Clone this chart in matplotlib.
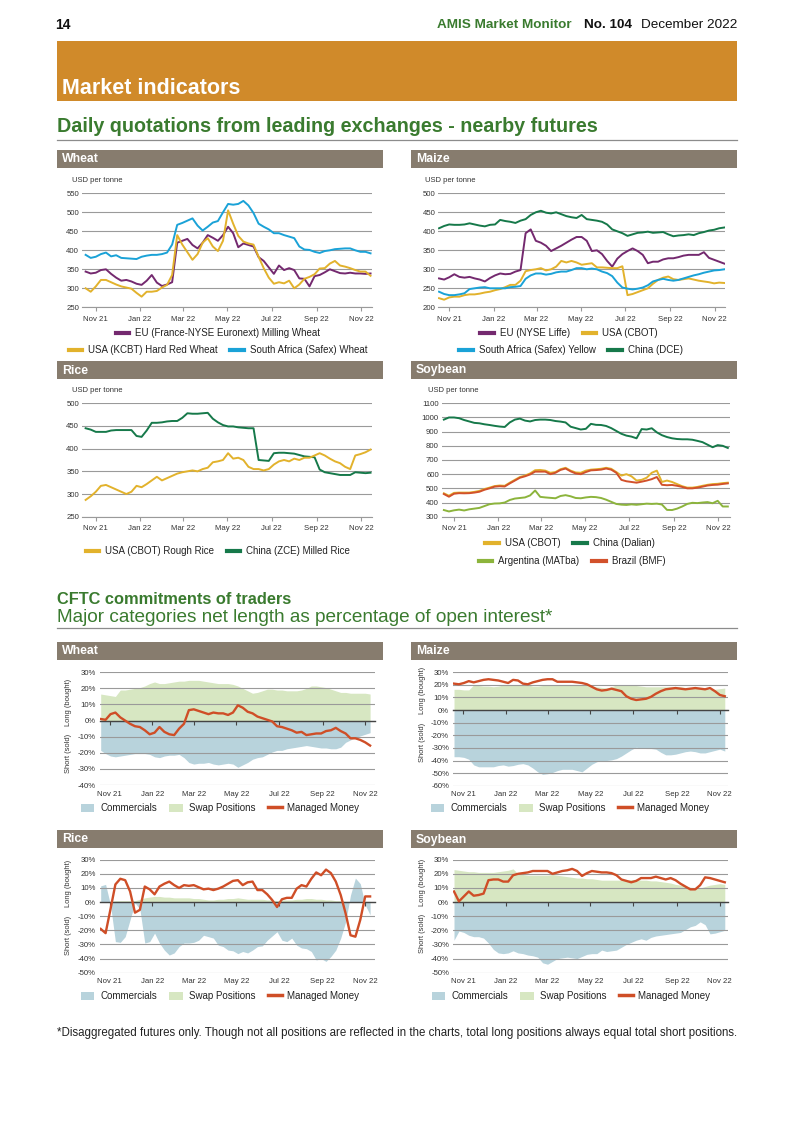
import matplotlib
matplotlib.use('Agg')
import matplotlib.pyplot as plt
import matplotlib.dates as mdates
from matplotlib.patches import Rectangle, Patch
from matplotlib.lines import Line2D
import pandas as pd

plt.rcParams['font.family'] = ['Liberation Sans', 'DejaVu Sans']

W, H = 793, 1122

# ---- dates / ticks ----
price_dates = mdates.date2num(pd.date_range('2021-10-18', periods=57, freq='7D'))
cftc_dates = mdates.date2num(pd.date_range('2021-10-19', periods=56, freq='7D'))
month_ticks = mdates.date2num(pd.to_datetime(['2021-11-01', '2022-01-01', '2022-03-01', '2022-05-01',
                                              '2022-07-01', '2022-09-01', '2022-11-01']))
month_labels = ['Nov 21', 'Jan 22', 'Mar 22', 'May 22', 'Jul 22', 'Sep 22', 'Nov 22']

# ---- daily quotations (weekly readings, USD per tonne) ----
wheat_eu = [344, 339, 341, 348, 350, 338, 328, 320, 322, 318, 312, 309, 320, 335, 315, 306, 310, 316, 420,
            425, 430, 414, 405, 420, 440, 433, 425, 440, 462, 445, 408, 418, 414, 410, 382, 372, 355, 338,
            360, 348, 353, 348, 326, 325, 305, 332, 335, 342, 350, 345, 340, 339, 341, 339, 339, 338, 339]
wheat_usa = [300, 291, 305, 322, 322, 316, 310, 305, 302, 299, 288, 278, 291, 291, 293, 302, 309, 335, 440,
             415, 395, 375, 390, 420, 432, 410, 398, 425, 505, 470, 438, 423, 418, 415, 383, 353, 328, 312,
             316, 313, 320, 300, 310, 325, 330, 337, 352, 353, 365, 372, 360, 357, 353, 348, 344, 344, 333]
wheat_za = [388, 380, 383, 390, 394, 384, 387, 380, 379, 378, 377, 383, 386, 388, 388, 390, 394, 415, 467,
            472, 478, 484, 465, 452, 462, 473, 477, 500, 522, 520, 522, 530, 518, 498, 470, 462, 455, 445,
            445, 440, 436, 432, 410, 402, 401, 396, 393, 398, 400, 403, 404, 405, 405, 400, 396, 396, 392]

maize_eu = [276, 273, 279, 287, 280, 278, 280, 276, 273, 268, 277, 284, 289, 287, 288, 294, 298, 395, 405,
            375, 370, 362, 348, 355, 362, 370, 378, 385, 385, 375, 348, 350, 340, 322, 307, 328, 340, 348,
            355, 348, 338, 316, 320, 320, 326, 329, 329, 332, 336, 338, 338, 338, 345, 330, 325, 320, 315]
maize_usa = [224, 220, 226, 228, 228, 232, 234, 234, 236, 239, 241, 245, 248, 253, 259, 259, 270, 295, 298,
             300, 303, 297, 300, 307, 322, 318, 322, 318, 312, 314, 316, 305, 305, 304, 303, 303, 308, 232,
             235, 240, 245, 250, 262, 272, 278, 281, 274, 272, 274, 276, 273, 270, 268, 266, 263, 265, 264]
maize_za = [241, 235, 232, 232, 234, 237, 248, 250, 252, 253, 250, 250, 250, 250, 253, 254, 256, 275, 284,
            289, 289, 286, 288, 292, 294, 294, 298, 303, 303, 300, 302, 300, 294, 290, 282, 265, 252, 249,
            247, 249, 252, 258, 268, 272, 275, 272, 270, 272, 276, 280, 284, 287, 291, 294, 297, 298, 300]
maize_cn = [408, 414, 418, 417, 417, 418, 421, 418, 415, 413, 417, 418, 430, 427, 425, 422, 428, 432, 443,
            450, 454, 449, 447, 450, 445, 440, 437, 435, 443, 432, 430, 428, 425, 418, 405, 400, 395, 388,
            392, 396, 397, 399, 396, 397, 398, 392, 387, 389, 390, 392, 390, 395, 398, 402, 404, 408, 410]

rice_usa = [287, 295, 305, 318, 320, 315, 310, 305, 300, 305, 318, 315, 322, 330, 338, 330, 335, 340, 345,
            348, 350, 352, 350, 355, 358, 370, 372, 375, 390, 378, 380, 375, 360, 355, 355, 352, 355, 365,
            372, 375, 372, 378, 375, 380, 380, 385, 390, 385, 378, 372, 368, 360, 355, 385, 388, 392, 398]
rice_cn = [445, 442, 437, 437, 437, 440, 441, 441, 441, 441, 428, 426, 440, 457, 457, 458, 460, 461, 461,
           468, 478, 477, 477, 478, 479, 466, 458, 452, 449, 449, 447, 446, 445, 445, 375, 374, 373, 390,
           391, 391, 390, 389, 386, 383, 382, 381, 354, 348, 346, 344, 342, 342, 342, 348, 347, 346, 347]

soy_usa = [465, 448, 468, 470, 470, 470, 475, 482, 495, 505, 516, 520, 518, 540, 560, 580, 590, 605, 628,
           630, 625, 610, 615, 635, 645, 625, 612, 610, 625, 632, 635, 638, 645, 638, 615, 590, 600, 585,
           555, 560, 575, 610, 625, 545, 555, 545, 530, 515, 505, 505, 510, 518, 525, 530, 532, 537, 540]
soy_cn = [985, 1000, 1000, 995, 982, 972, 962, 959, 952, 947, 941, 936, 933, 965, 985, 992, 978, 972, 982,
          985, 985, 982, 975, 971, 965, 935, 925, 915, 920, 955, 948, 947, 940, 925, 905, 885, 872, 865,
          853, 918, 915, 924, 895, 875, 862, 853, 848, 846, 846, 843, 835, 826, 808, 790, 805, 800, 785]
soy_ar = [347, 337, 345, 350, 344, 352, 357, 362, 375, 388, 393, 394, 400, 418, 428, 432, 436, 450, 485,
          440, 436, 433, 430, 446, 452, 444, 432, 430, 436, 440, 438, 432, 420, 405, 390, 385, 383, 387,
          384, 388, 392, 390, 392, 386, 348, 347, 357, 372, 390, 398, 396, 400, 403, 395, 412, 372, 372]
soy_br = [460, 441, 462, 466, 465, 466, 470, 476, 490, 500, 512, 515, 513, 535, 555, 575, 585, 598, 618,
          618, 618, 600, 610, 630, 640, 620, 605, 600, 615, 627, 629, 632, 640, 632, 610, 560, 550, 545,
          540, 547, 555, 565, 580, 525, 522, 524, 518, 510, 500, 500, 505, 512, 520, 524, 526, 531, 535]

# ---- CFTC net length, % of open interest (weekly) ----
wheat_comm = [-18.5, -20.5, -22, -22.5, -22, -21.5, -21, -20.5, -20.5, -20.5, -21, -22.5, -23, -22, -21.5,
              -21.5, -21, -23, -26, -27, -26.5, -26.5, -26, -27, -27.5, -27, -26.5, -27, -29, -27.5, -26,
              -24, -23, -22.5, -21, -19.5, -18.5, -18.5, -17.5, -17, -16.5, -16, -15.5, -16, -16.5, -17,
              -17, -17.5, -17.5, -16.5, -13.5, -12, -10.5, -9.5, -8.5, -7.5]
wheat_swap = [16.5, 16, 15.5, 15, 19, 19, 19.5, 20, 20.5, 21.5, 23, 24, 23, 23, 23.5, 24, 24.5, 24.5, 25, 25,
              25, 24.5, 24, 23.5, 23, 23, 23, 22.5, 21.5, 20, 18.5, 17, 17.5, 18.5, 19.5, 19.5, 19, 19, 18.5,
              18.5, 18.5, 19, 20, 21.5, 21.5, 21, 20.5, 19.5, 18.5, 17.5, 17.5, 17, 17, 17, 17, 16.5]
wheat_mm = [1, 0.5, 4, 5, 2, 0, -2, -3.5, -4, -6, -8.5, -7.5, -4, -7, -8.5, -9, -5, -2, 6.5, 7, 6, 5, 4, 5,
            4.5, 4.5, 3.5, 5, 9.5, 8, 5.5, 4.5, 2.5, 1.5, 0.5, -0.5, -3.5, -4, -5, -6, -7.5, -7, -9, -8.5,
            -8, -8, -6.5, -6, -4.5, -6.5, -8, -11, -11, -12, -13.5, -15.5]

maize_comm = [-37, -37, -37.5, -39, -43.5, -45, -45, -45, -45, -44, -43.5, -44.5, -44, -43, -42.5, -43.5,
              -46, -49, -51, -50.5, -49.5, -48, -47, -47, -47, -48, -49, -46, -43, -41, -40, -40, -39.5,
              -38.5, -36.5, -34, -31.5, -29.5, -30, -30.5, -30.5, -31, -33.5, -35.5, -35.5, -35, -34, -33,
              -32.5, -33, -34, -34, -33, -32, -31, -32.5]
maize_swap = [16.5, 16.5, 16, 16, 20, 19.5, 19, 19, 18.5, 19, 20, 20, 20, 19.5, 20, 20, 19, 19, 19.5, 20,
              20, 20, 20, 20, 20, 20, 20, 19.5, 19, 18.5, 18, 17.5, 18.5, 20, 20, 20, 19.5, 19.5, 19, 18.5,
              18.5, 18.5, 18.5, 18.5, 18.5, 18.5, 18.5, 18, 18, 17.5, 17.5, 17, 16.5, 16.5, 17, 17.5]
maize_mm = [21, 20.5, 21.5, 23, 22, 23, 24, 24.5, 24, 23.5, 22.5, 21.5, 24, 23.5, 21, 20.5, 22, 23, 24,
            24.5, 24.5, 22.5, 22.5, 22.5, 22.5, 22, 21.5, 20.5, 18.5, 16.5, 15.5, 16, 17, 16, 15, 11, 9, 8,
            8.5, 9, 10.5, 13, 15, 16.5, 17, 17.5, 17, 16.5, 17, 17.5, 17, 16.5, 17.5, 15, 12, 11]

rice_comm = [11.5, 12.5, -2, -28, -28.5, -24.5, -12.5, -0.5, -5, -29, -28, -22, -29, -34, -37.5, -36, -31.5,
             -29, -29, -28.5, -27, -23.5, -24.5, -25.5, -30.5, -31.5, -34, -34.5, -36.5, -35, -36, -34,
             -31.5, -31, -27, -24, -21, -27, -28, -25.5, -30.5, -32.5, -33, -35, -41, -40, -42, -38.5, -34,
             -25.5, -14, 5, 17, 13, -2, -9]
rice_swap = [0, 0, 0.5, 1, 1, 1, 1, 1, 2, 3, 3.5, 4, 4, 3.5, 3.5, 3, 3, 3, 3, 2.5, 2.5, 2, 1.5, 1.5, 2, 2,
             2.5, 2.5, 3, 2.5, 2, 2, 2, 2, 1.5, 1.5, 1, 1.5, 1.5, 1.5, 2, 2, 2.5, 2.5, 2, 2, 1.5, 1.5, 1, 1,
             0.5, 0.5, 0.5, 0.5, 0.5, 0.5]
rice_mm = [-19, -22, -5, 12.5, 16.5, 15.5, 7.5, -7.5, -5.5, 11, 9, 5.5, 11, 13, 14.5, 12, 10, 12, 11.5, 12,
           10.5, 9, 9.5, 8.5, 9.5, 11, 13, 15, 15.5, 12, 14, 14.5, 8.5, 8.5, 5.5, 1.5, -3.5, 2, 3, 3, 9.5,
           12, 11, 16.5, 21, 19, 23, 20.5, 14.5, 5, -8, -23.5, -24.5, -12.5, 4, 4]

soy_comm = [-27, -20.5, -21.5, -23.5, -24.5, -24.5, -25.5, -29, -33.5, -36, -36.5, -36, -34.5, -36, -36.5,
            -37.5, -38, -39, -43, -44, -42, -40, -39.5, -39, -39.5, -40, -38.5, -37, -36.5, -36.5, -34, -35,
            -34.5, -34, -32, -30, -28.5, -27, -26, -27, -25, -24, -23.5, -23, -22.5, -22, -21.5, -19.5,
            -17.5, -16.5, -14, -16, -22.5, -22, -21, -20]
soy_swap = [23, 22.5, 22, 21.5, 21.5, 21, 21, 21, 21, 21.5, 22, 22.5, 23.5, 20, 19.5, 19, 19, 19, 19, 19,
            19.5, 19, 18.5, 18, 17.5, 17, 17, 16.5, 16.5, 16, 15.5, 15.5, 15.5, 15.5, 15.5, 15.5, 16, 16,
            15.5, 15.5, 15, 15, 14.5, 14, 13.5, 12.5, 12, 11.5, 10.5, 10, 10, 11, 12, 12.5, 13, 12.5]
soy_mm = [7.5, 0.5, 4, 7.5, 4.5, 5, 6, 15.5, 16, 16, 14.5, 14.5, 19, 20, 20.5, 21, 22, 22, 22, 22, 20, 21, 22,
          22.5, 23.5, 22, 18.5, 20.5, 22, 21.5, 21, 21, 20.5, 19, 16, 15, 14, 15, 17, 17, 17, 18, 17, 16, 17,
          15.5, 13, 11, 9, 9, 12, 17.5, 17, 16, 15, 14]

# ---- colours ----
PURPLE = '#74296F'
GOLD = '#E2B22C'
BLUE = '#1AA2D7'
DKGREEN = '#16794A'
LTGREEN = '#8CB43C'
RED = '#D2512B'
COMM = '#B8D3DC'
SWAP = '#D7E7C2'
MM = '#CF4E27'
BAR = '#877C6E'
TITLEGREEN = '#3A7B2F'
ORANGE = '#D08A2A'
GRID = '#9A9A9A'
TXT = '#333333'

fig = plt.figure(figsize=(W / 100, H / 100), dpi=100)


def add_ax(x0, y0, x1, y1):
    return fig.add_axes([x0 / W, 1 - y1 / H, (x1 - x0) / W, (y1 - y0) / H])


def rect(x0, y0, x1, y1, color):
    fig.add_artist(Rectangle((x0 / W, 1 - y1 / H), (x1 - x0) / W, (y1 - y0) / H,
                             transform=fig.transFigure, facecolor=color, edgecolor='none'))


def hline(x0, x1, y, color='#8C8C8C', lw=0.9):
    fig.add_artist(Line2D([x0 / W, x1 / W], [1 - y / H, 1 - y / H], color=color, lw=lw))


def text(x, y, s, **kw):
    fig.text(x / W, 1 - y / H, s, **kw)


def panel_bar(x0, y0, x1, y1, title):
    rect(x0, y0, x1, y1, BAR)
    text(x0 + 5, (y0 + y1) / 2 + 0.5, title, color='white', fontsize=8.8, fontweight='bold',
         va='center', ha='left')


def legend(handles, labels, cx, cy, patches=False):
    leg = fig.legend(handles, labels, loc='center', bbox_to_anchor=(cx / W, 1 - cy / H),
                     ncol=len(handles), frameon=False, fontsize=7, handlelength=1.4,
                     handletextpad=0.6, columnspacing=1.3, borderpad=0,
                     handleheight=0.9 if patches else 0.7)
    for t in leg.get_texts():
        t.set_color('#222222')
    return leg


def price_chart(box, xlim, ylim, yticks, series, unit_xy):
    ax = add_ax(*box)
    lines = []
    for vals, color in series:
        ln, = ax.plot(price_dates, vals, color=color, lw=1.4, solid_joinstyle='round')
        lines.append(ln)
    ax.set_xlim(*[mdates.date2num(pd.Timestamp(d)) for d in xlim])
    ax.set_ylim(*ylim)
    ax.set_yticks(yticks)
    ax.set_xticks(month_ticks)
    ax.set_xticklabels(month_labels)
    for s in ['top', 'right', 'left']:
        ax.spines[s].set_visible(False)
    ax.spines['bottom'].set_color(GRID)
    ax.spines['bottom'].set_linewidth(0.8)
    ax.grid(axis='y', color=GRID, lw=0.8)
    ax.set_axisbelow(True)
    ax.tick_params(axis='y', length=0, pad=2, labelsize=5.6, labelcolor=TXT)
    ax.tick_params(axis='x', length=3, width=0.8, color=GRID, pad=3, labelsize=5.6, labelcolor=TXT)
    ax.patch.set_alpha(0)
    text(unit_xy[0], unit_xy[1], 'USD per tonne', fontsize=5.5, color=TXT, va='center')
    return lines


def cftc_chart(box, xlim, ylim, yticks, comm, swap, mm, lab_x, long_y, short_y):
    ax = add_ax(*box)
    ax.fill_between(cftc_dates, 0, swap, color=SWAP, lw=0)
    ax.fill_between(cftc_dates, 0, comm, color=COMM, lw=0)
    ax.plot(cftc_dates, mm, color=MM, lw=1.7, solid_joinstyle='round', zorder=3)
    ax.set_xlim(*[mdates.date2num(pd.Timestamp(d)) for d in xlim])
    ax.set_ylim(*ylim)
    ax.set_yticks(yticks)
    ax.set_yticklabels([f'{v}%' for v in yticks])
    for s in ['top', 'right', 'left']:
        ax.spines[s].set_visible(False)
    ax.spines['bottom'].set_position(('data', 0))
    ax.spines['bottom'].set_color('#444444')
    ax.spines['bottom'].set_linewidth(1.0)
    ax.spines['bottom'].set_zorder(2.5)
    ax.set_xticks(month_ticks)
    ax.tick_params(axis='x', length=3, width=0.8, color='#444444', labelbottom=False)
    ax.grid(axis='y', color=GRID, lw=0.8)
    ax.set_axisbelow('line')
    ax.tick_params(axis='y', length=0, pad=3, labelsize=5.6, labelcolor=TXT)
    ax.patch.set_alpha(0)
    sec = ax.secondary_xaxis('bottom')
    sec.set_xticks(month_ticks)
    sec.set_xticklabels(month_labels)
    sec.tick_params(length=0, pad=4, labelsize=5.6, labelcolor=TXT)
    sec.spines['bottom'].set_visible(False)
    text(lab_x, long_y, 'Long (bought)', rotation=90, fontsize=5.4, color=TXT, ha='center', va='center')
    text(lab_x, short_y, 'Short (sold)', rotation=90, fontsize=5.4, color=TXT, ha='center', va='center')


# ---- page header ----
text(55, 25, '14', fontsize=10, fontweight='bold', va='center', color='#111111')
text(437, 25, 'AMIS Market Monitor', fontsize=9.7, fontweight='bold', va='center', color=TITLEGREEN)
text(584, 25, 'No. 104', fontsize=9.7, fontweight='bold', va='center', color='#111111')
text(737, 25, 'December 2022', fontsize=9.7, va='center', ha='right', color='#111111')

rect(57, 41, 737, 101, ORANGE)
text(62, 88, 'Market indicators', fontsize=15.5, fontweight='bold', color='white', va='center')

text(57, 127, 'Daily quotations from leading exchanges - nearby futures', fontsize=14.2,
     fontweight='bold', color=TITLEGREEN, va='center')
hline(57, 737, 140)

# ---- price panels ----
panel_bar(57, 150, 383, 168, 'Wheat')
panel_bar(411, 150, 737, 168, 'Maize')
panel_bar(57, 361, 383, 379, 'Rice')
panel_bar(411, 361, 737, 379, 'Soybean')

lw_ = price_chart((82, 193.3, 372, 307.3), ('2021-10-13', '2022-11-16'), (250, 550),
                  [250, 300, 350, 400, 450, 500, 550],
                  [(wheat_za, BLUE), (wheat_eu, PURPLE), (wheat_usa, GOLD)], (72, 180))
legend([lw_[1]], ['EU (France-NYSE Euronext) Milling Wheat'], 218, 333)
legend([lw_[2], lw_[0]], ['USA (KCBT) Hard Red Wheat', 'South Africa (Safex) Wheat'], 218, 350)

lm = price_chart((438.3, 193.3, 725, 307.3), ('2021-10-17', '2022-11-15'), (200, 500),
                 [200, 250, 300, 350, 400, 450, 500],
                 [(maize_cn, DKGREEN), (maize_eu, PURPLE), (maize_usa, GOLD), (maize_za, BLUE)], (425, 180))
legend([lm[1], lm[2]], ['EU (NYSE Liffe)', 'USA (CBOT)'], 569, 333)
legend([lm[3], lm[0]], ['South Africa (Safex) Yellow', 'China (DCE)'], 571, 350)

lr = price_chart((82, 403.3, 372, 516.7), ('2021-10-13', '2022-11-16'), (250, 500),
                 [250, 300, 350, 400, 450, 500],
                 [(rice_cn, DKGREEN), (rice_usa, GOLD)], (72, 390))
legend([lr[1], lr[0]], ['USA (CBOT) Rough Rice', 'China (ZCE) Milled Rice'], 218, 551)

ls = price_chart((441.7, 403.3, 730, 516.7), ('2021-10-15', '2022-11-17'), (300, 1100),
                 [300, 400, 500, 600, 700, 800, 900, 1000, 1100],
                 [(soy_cn, DKGREEN), (soy_ar, LTGREEN), (soy_usa, GOLD), (soy_br, RED)], (428, 390))
legend([ls[2], ls[0]], ['USA (CBOT)', 'China (Dalian)'], 570, 543)
legend([ls[1], ls[3]], ['Argentina (MATba)', 'Brazil (BMF)'], 572, 561)

for lg in fig.legends:
    for ln in lg.get_lines():
        ln.set_linewidth(3)

# ---- CFTC section ----
text(57, 600, 'CFTC commitments of traders', fontsize=11.8, fontweight='bold', color=TITLEGREEN, va='center')
text(57, 617, 'Major categories net length as percentage of open interest*', fontsize=13.7,
     color=TITLEGREEN, va='center')
hline(57, 737, 628)

panel_bar(57, 642, 383, 660, 'Wheat')
panel_bar(411, 642, 737, 660, 'Maize')
panel_bar(57, 830, 383, 848, 'Rice')
panel_bar(411, 830, 737, 848, 'Soybean')

cftc_chart((100, 672.3, 375, 785), ('2021-10-18', '2022-11-15'), (-40, 30), list(range(-40, 31, 10)),
           wheat_comm, wheat_swap, wheat_mm, 68, 702, 753)
cftc_chart((453.3, 672.3, 728.3, 785.7), ('2021-10-18', '2022-11-13'), (-60, 30), list(range(-60, 31, 10)),
           maize_comm, maize_swap, maize_mm, 422, 690, 742)
cftc_chart((100, 859.7, 375, 972.7), ('2021-10-18', '2022-11-15'), (-50, 30), list(range(-50, 31, 10)),
           rice_comm, rice_swap, rice_mm, 68, 883, 935)
cftc_chart((453.3, 859.7, 728.3, 972.7), ('2021-10-18', '2022-11-13'), (-50, 30), list(range(-50, 31, 10)),
           soy_comm, soy_swap, soy_mm, 422, 882, 933)

cftc_handles = [Patch(facecolor=COMM, edgecolor='none'), Patch(facecolor=SWAP, edgecolor='none'),
                Line2D([], [], color=MM, lw=2.5)]
cftc_labels = ['Commercials', 'Swap Positions', 'Managed Money']
for cx, cy in [(220, 808), (570, 808), (220, 996), (571, 996)]:
    legend(cftc_handles, cftc_labels, cx, cy, patches=True)

text(57, 1033, '*Disaggregated futures only. Though not all positions are reflected in the charts, '
     'total long positions always equal total short positions.', fontsize=8.3, color='#222222', va='center')

fig.savefig('out.png', dpi=100)
